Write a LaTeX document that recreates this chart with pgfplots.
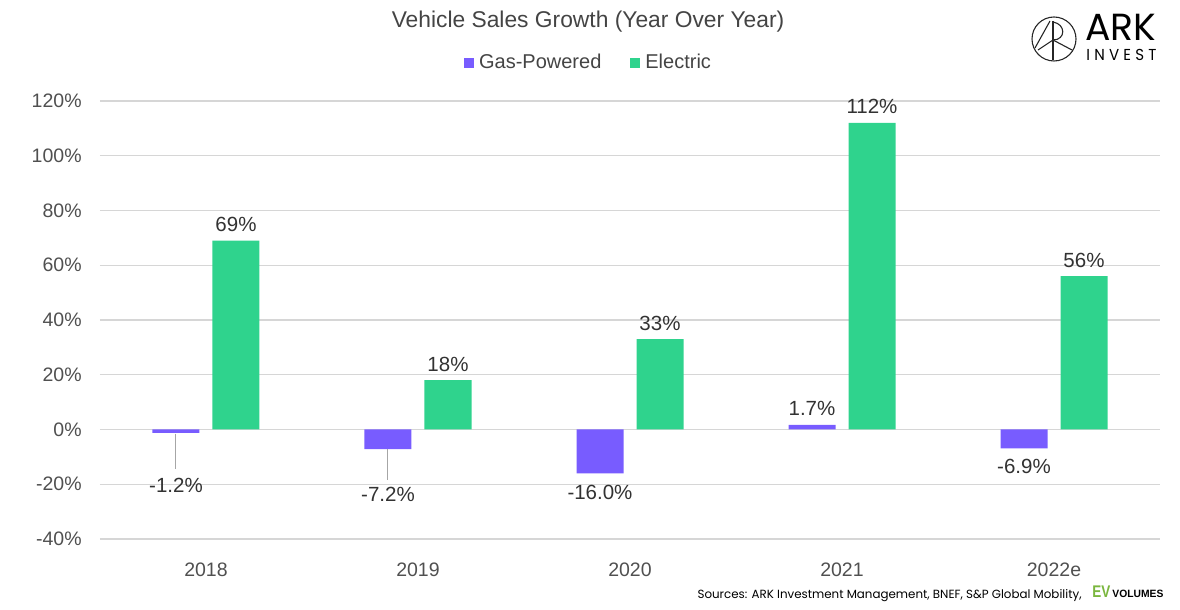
\documentclass[border=0pt]{standalone}
\usepackage{pgfplots}
\usepackage{pgfplotstable}
\usepackage{graphicx}
\pgfplotsset{compat=1.18}
\usepackage{fontspec}
\setmainfont{Liberation Sans}
\newfontfamily\srcfont{Poppins}
\newfontfamily\arkfont{Poppins}
\newfontfamily\arkwide[LetterSpace=28]{Poppins}

\definecolor{gaspurple}{RGB}{120,92,255}
\definecolor{evgreen}{RGB}{47,211,141}
\definecolor{gridgrey}{RGB}{214,214,214}
\definecolor{ticktext}{RGB}{80,80,80}
\definecolor{labeltext}{RGB}{50,50,50}
\definecolor{titletext}{RGB}{68,68,68}
\definecolor{evvol}{RGB}{122,182,62}

% growth in percent, year over year
\pgfplotstableread{
x gas   ev
0 -1.2  69
1 -7.2  18
2 -16.0 33
3 1.7   112
4 -6.9  56
}\salesdata

\begin{document}
\begin{tikzpicture}
\path[use as bounding box] (0,0) rectangle (590pt,305pt);

\begin{axis}[
    at={(50pt,35.5pt)}, anchor=south west,
    scale only axis,
    width=530pt, height=219pt,
    xmin=-0.5, xmax=4.5,
    ymin=-40, ymax=120,
    ybar, bar width=23.5pt,
    clip=false,
    /pgf/number format/assume math mode=true,
    axis line style={draw=none},
    tick style={draw=none},
    ymajorgrids,
    grid style={gridgrey, line width=0.6pt},
    ytick={-40,-20,0,20,40,60,80,100,120},
    yticklabels={-40\%,-20\%,0\%,20\%,40\%,60\%,80\%,100\%,120\%},
    xtick={0,1,2,3,4},
    xticklabels={2018,2019,2020,2021,2022e},
    yticklabel style={anchor=east, inner sep=0pt, xshift=-9pt,
        font=\fontsize{9.75}{12}\selectfont, text=ticktext},
    xticklabel style={anchor=base, inner sep=0pt, yshift=-14.5pt,
        font=\fontsize{9.75}{12}\selectfont, text=ticktext},
    legend columns=2,
    legend style={at={(0.4623,1.087)}, anchor=center, draw=none, fill=none,
        font=\fontsize{10}{12}\selectfont, text=titletext,
        /tikz/every even column/.append style={column sep=12pt},
        nodes={inner xsep=2.5pt, inner ysep=0pt}},
    legend image code/.code={\fill[#1] (0pt,-2.5pt) rectangle (5pt,2.5pt);},
]

\addplot[fill=gaspurple, draw=none, bar shift=-15pt]
    table[x=x, y=gas] {\salesdata};

\addplot[fill=evgreen, draw=none, bar shift=15pt,
    point meta=y,
    nodes near coords={\pgfmathprintnumber[fixed,precision=0]{\pgfplotspointmeta}\%},
    every node near coord/.append style={anchor=base, yshift=4.5pt, inner sep=0pt,
        font=\fontsize{10.25}{12}\selectfont, text=labeltext}]
    table[x=x, y=ev] {\salesdata};

\legend{Gas-Powered, Electric}

% labels of the gas bars, placed by hand as in the original
\begin{scope}[every node/.style={anchor=base, inner sep=0pt,
        font=\fontsize{10.25}{12}\selectfont, text=labeltext}]
\node at ([xshift=-15pt]axis cs:0,-23.0) {-1.2\%};
\node at ([xshift=-15pt]axis cs:1,-26.3) {-7.2\%};
\node at ([xshift=-15pt]axis cs:2,-25.6) {-16.0\%};
\node at ([xshift=-15pt]axis cs:3,5.1) {1.7\%};
\node at ([xshift=-15pt]axis cs:4,-16.1) {-6.9\%};
\end{scope}
\draw[gray!70, line width=0.5pt] ([xshift=-15pt]axis cs:0,-1.5) -- ([xshift=-15pt]axis cs:0,-14.6);
\draw[gray!70, line width=0.5pt] ([xshift=-15pt]axis cs:1,-7.3) -- ([xshift=-15pt]axis cs:1,-18.3);
\end{axis}

% title
\node[font=\fontsize{11.4}{13}\selectfont, text=titletext] at (294pt,294pt)
    {Vehicle Sales Growth (Year Over Year)};

% sources line
\node[anchor=base east, inner sep=0pt] at (541pt,5.5pt)
    {\resizebox{192pt}{!}{\srcfont Sources: ARK Investment Management, BNEF, S\&P Global Mobility,}};
\node[anchor=base west, inner sep=0pt, text=evvol] at (546pt,6pt)
    {\resizebox{9pt}{5.8pt}{\bfseries EV}};
\node[anchor=base west, inner sep=0pt] at (556pt,6pt)
    {\resizebox{25.5pt}{3.7pt}{\bfseries VOLUMES}};

% ARK Invest logo
\begin{scope}[line width=0.55pt, black!85]
\draw (527pt,285.5pt) circle (11pt);
\draw (525pt,294.5pt) -- (517.5pt,281pt);
\draw (526.5pt,294.5pt) -- (526.5pt,275pt);
\draw (526.5pt,294pt) .. controls (533pt,293pt) and (533pt,285pt) .. (526.5pt,285pt);
\draw (526.5pt,285pt) -- (536pt,280pt);
\draw (519pt,280pt) -- (526.5pt,285pt);
\end{scope}
\node[anchor=base west, inner sep=0pt] at (542.5pt,284.5pt)
    {\resizebox{35.5pt}{!}{\arkfont ARK}};
\node[anchor=base west, inner sep=0pt] at (543pt,274.5pt)
    {\resizebox{35pt}{5.6pt}{\arkwide INVEST}};
\end{tikzpicture}
\end{document}
